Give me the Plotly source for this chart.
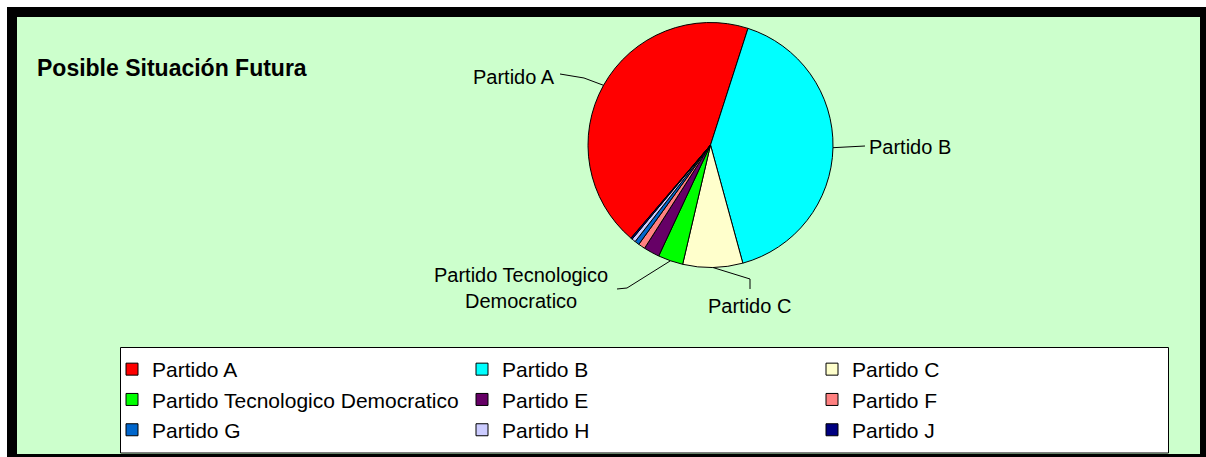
import plotly.graph_objects as go
import math

# ---- data ----
labels = ["Partido A", "Partido B", "Partido C", "Partido Tecnologico Democratico",
          "Partido E", "Partido F", "Partido G", "Partido H", "Partido J"]
values = [43.7, 40.8, 7.9, 3.3, 2.1, 0.9, 0.6, 0.5, 0.2]
colors = ["#FF0000", "#00FFFF", "#FFFFCC", "#00FF00", "#660066",
          "#FF8080", "#0066CC", "#CCCCFF", "#000080"]
title_text = "Posible Situación Futura"

# ---- layout constants (pixels) ----
W, H = 1206, 457
CX, CY, R = 710.5, 145.0, 122.5
START_ANGLE = 220.5  # first slice start, clockwise from 12 o'clock
FONT = "Liberation Sans, Arial, sans-serif"


def px(x):
    return x / W


def py(y):
    return 1 - y / H


fig = go.Figure()
fig.add_trace(go.Pie(
    labels=labels, values=values, sort=False, direction="clockwise",
    rotation=START_ANGLE,
    marker=dict(colors=colors, line=dict(color="black", width=1)),
    textinfo="none", hoverinfo="label+percent",
    domain=dict(x=[px(CX - R), px(CX + R)], y=[py(CY + R), py(CY - R)]),
))

# mid-angles of slices from the data (for leader lines)
total = sum(values)
mids = []
acc = START_ANGLE
for v in values:
    ang = v / total * 360
    mids.append(acc + ang / 2)
    acc += ang


def edge(i):
    t = math.radians(mids[i])
    return CX + R * math.sin(t), CY - R * math.cos(t)


# label specs: index, label text, anchor point, xanchor, leader points
label_specs = [
    (0, "Partido A", (557, 77), "right", [(584, 78), (560, 74)]),
    (1, "Partido B", (867, 147), "left", [(865, 146)]),
    (2, "Partido C", (749, 306), "center", [(750, 279), (750, 289)]),
    (3, "Partido Tecnologico<br>Democratico", (521, 288), "center", [(627, 288), (617, 289)]),
]

shapes = [
    # chart area with thick black frame
    dict(type="rect", xref="paper", yref="paper",
         x0=px(12), y0=py(12), x1=px(1205), y1=py(459),
         fillcolor="#CCFFCC", line=dict(color="black", width=10), layer="below"),
    # legend box
    dict(type="rect", xref="paper", yref="paper",
         x0=px(120.5), y0=py(347.5), x1=px(1168.5), y1=py(453),
         fillcolor="white", line=dict(color="black", width=1), layer="below"),
]
annotations = []
for i, txt, (tx, ty), xa, pts in label_specs:
    ex, ey = edge(i)
    path = "M %f %f" % (px(ex), py(ey))
    for (x, y) in pts:
        path += " L %f %f" % (px(x), py(y))
    shapes.append(dict(type="path", xref="paper", yref="paper", path=path,
                       line=dict(color="black", width=1)))
    annotations.append(dict(text=txt, x=px(tx), y=py(ty), xref="paper", yref="paper",
                            xanchor=xa, yanchor="middle", showarrow=False, align="center",
                            font=dict(family=FONT, size=20, color="black")))

fig.update_layout(
    width=W, height=H, autosize=False,
    margin=dict(l=0, r=0, t=0, b=0),
    paper_bgcolor="white", plot_bgcolor="white",
    title=dict(text="<b>" + title_text + "</b>", x=px(37), y=py(68), xanchor="left",
               yanchor="middle", xref="paper", yref="paper",
               font=dict(family=FONT, size=23, color="black")),
    shapes=shapes, annotations=annotations,
    showlegend=True,
    legend=dict(orientation="h", x=px(112), y=py(349), xanchor="left", yanchor="top",
                entrywidth=305, entrywidthmode="pixels",
                bgcolor="rgba(0,0,0,0)", borderwidth=0,
                font=dict(family=FONT, size=21, color="black"), traceorder="normal"),
)

fig.write_html("out.html", config={"displayModeBar": False},
               post_script="document.body.style.margin='0';")
